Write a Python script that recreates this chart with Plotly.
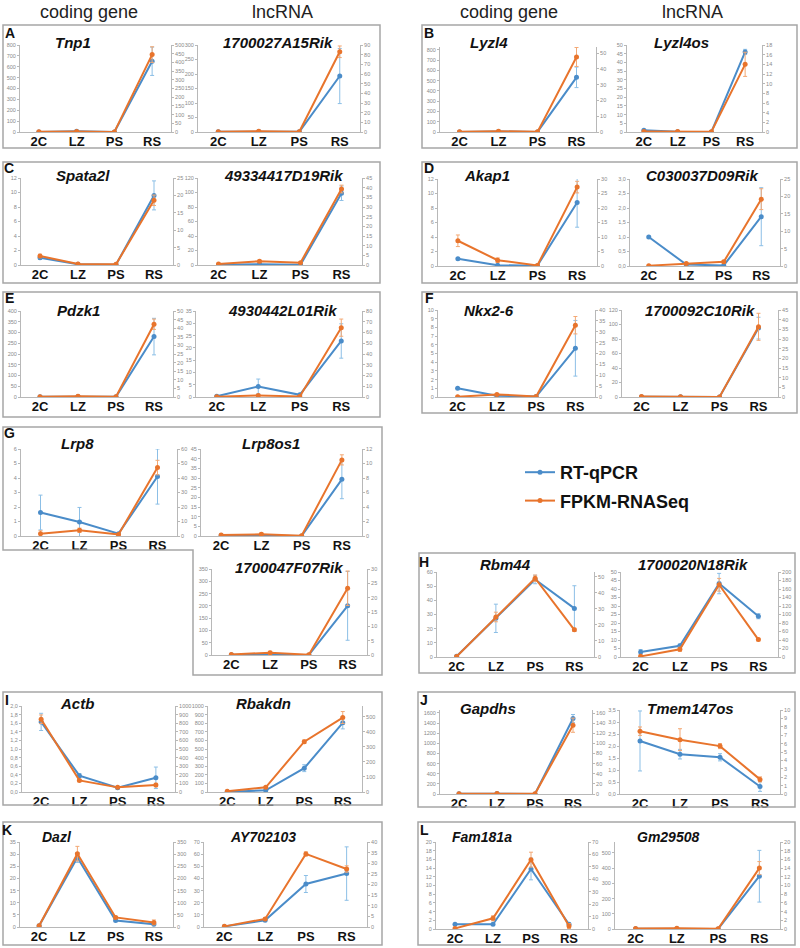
import plotly.graph_objects as go

W, H = 800, 948
FONT = "Liberation Sans, Arial, sans-serif"
stages = ["2C", "LZ", "PS", "RS"]
series_names = ["RT-qPCR", "FPKM-RNASeq"]
column_headers = ["coding gene", "lncRNA", "coding gene", "lncRNA"]

# ---------------- data (qPCR on left axis, FPKM on right axis) ----------------
tnp1_qpcr = [1, 6, 1, 650];        tnp1_qpcr_err = [0.5, 3, 0.5, 130]
tnp1_fpkm = [1, 3, 0.5, 445];      tnp1_fpkm_err = [0.5, 1, 0.3, 45]
r27a15_qpcr = [1, 2, 0.5, 193];    r27a15_qpcr_err = [0.5, 1, 0.3, 95]
r27a15_fpkm = [0.3, 0.8, 0.2, 83]; r27a15_fpkm_err = [0.1, 0.3, 0.1, 6]
lyzl4_qpcr = [1, 5, 1, 533];       lyzl4_qpcr_err = [0.5, 3, 0.5, 100]
lyzl4_fpkm = [0.1, 0.5, 0.1, 47.5]; lyzl4_fpkm_err = [0.05, 0.3, 0.05, 6]
lyzl4os_qpcr = [1, 0.2, 0.05, 46]; lyzl4os_qpcr_err = [0.3, 0.1, 0, 1.5]
lyzl4os_fpkm = [0.1, 0.1, 0.05, 14]; lyzl4os_fpkm_err = [0.05, 0.05, 0, 2.5]
spata2l_qpcr = [1.0, 0.1, 0.05, 9.6]; spata2l_qpcr_err = [0.2, 0.05, 0.02, 2]
spata2l_fpkm = [2.6, 0.3, 0.2, 18.6]; spata2l_fpkm_err = [0.5, 0.1, 0.1, 1.5]
r4933_qpcr = [0.5, 1, 0.3, 99];    r4933_qpcr_err = [0.3, 0.5, 0.2, 10]
r4933_fpkm = [0.5, 2.0, 1.2, 39.3]; r4933_fpkm_err = [0.2, 0.5, 0.3, 2]
akap1_qpcr = [1.0, 0.1, 0.05, 8.75]; akap1_qpcr_err = [0.1, 0.05, 0.02, 3.4]
akap1_fpkm = [8.7, 2.0, 0.2, 27.2]; akap1_fpkm_err = [2, 0.8, 0.1, 2]
c030_qpcr = [1.0, 0.05, 0.02, 1.7]; c030_qpcr_err = [0.03, 0.02, 0.01, 1.0]
c030_fpkm = [0.1, 0.7, 1.2, 19.2]; c030_fpkm_err = [0.05, 0.3, 0.4, 3]
pdzk1_qpcr = [1, 2, 1, 281];       pdzk1_qpcr_err = [0.5, 1, 0.5, 85]
pdzk1_fpkm = [0.2, 0.5, 0.2, 42.3]; pdzk1_fpkm_err = [0.1, 0.2, 0.1, 3]
r4930_qpcr = [0.3, 4.3, 0.9, 22.8]; r4930_qpcr_err = [0.1, 3, 0.2, 7]
r4930_fpkm = [0.3, 1.5, 0.5, 64.5]; r4930_fpkm_err = [0.1, 0.5, 0.2, 8]
nkx26_qpcr = [1.0, 0.15, 0.05, 5.6]; nkx26_qpcr_err = [0.05, 0.05, 0.02, 3.2]
nkx26_fpkm = [0.1, 1.2, 0.2, 33];  nkx26_fpkm_err = [0.05, 0.3, 0.1, 4]
r92c10_qpcr = [0.5, 0.2, 0.1, 95]; r92c10_qpcr_err = [0.3, 0.1, 0.05, 15]
r92c10_fpkm = [0.2, 0.1, 0.05, 36.3]; r92c10_fpkm_err = [0.1, 0.05, 0.02, 7]
lrp8_qpcr = [1.62, 0.97, 0.16, 4.1]; lrp8_qpcr_err = [1.2, 1.0, 0.05, 1.9]
lrp8_fpkm = [1.6, 3.9, 1.0, 47.2]; lrp8_fpkm_err = [2, 1.5, 0.3, 5]
lrp8os1_qpcr = [0.3, 0.2, 0.05, 29.3]; lrp8os1_qpcr_err = [0.2, 0.2, 0.02, 10]
lrp8os1_fpkm = [0.14, 0.23, 0.05, 10.5]; lrp8os1_fpkm_err = [0.05, 0.2, 0.02, 0.7]
r47f07_qpcr = [1, 2, 0.5, 200];    r47f07_qpcr_err = [0.5, 2, 0.3, 140]
r47f07_fpkm = [0.2, 0.8, 0.1, 23.3]; r47f07_fpkm_err = [0.1, 0.5, 0.05, 6]
rbm44_qpcr = [0.5, 27.3, 54.7, 34.3]; rbm44_qpcr_err = [0.3, 10, 3, 16]
rbm44_fpkm = [0.3, 25, 49.2, 17];  rbm44_fpkm_err = [0.1, 3, 2, 1]
r20n18_qpcr = [2.9, 6.6, 43.2, 24]; r20n18_qpcr_err = [1.5, 1, 6, 1.5]
r20n18_fpkm = [1.5, 18, 170, 41];  r20n18_fpkm_err = [0.5, 5, 15, 3]
actb_qpcr = [1.63, 0.38, 0.1, 0.33]; actb_qpcr_err = [0.2, 0.05, 0.01, 0.25]
actb_fpkm = [846, 135, 54, 81];    actb_fpkm_err = [50, 10, 5, 20]
rbakdn_qpcr = [2, 19, 277, 804];   rbakdn_qpcr_err = [1, 5, 40, 70]
rbakdn_fpkm = [5, 31, 335, 496];   rbakdn_fpkm_err = [2, 5, 12, 40]
gapdhs_qpcr = [5, 10, 2, 1490];    gapdhs_qpcr_err = [2, 3, 1, 80]
gapdhs_fpkm = [0.5, 1, 0.3, 136];  gapdhs_fpkm_err = [0.2, 0.5, 0.1, 14]
tmem_qpcr = [2.21, 1.66, 1.53, 0.31]; tmem_qpcr_err = [1.25, 0.2, 0.15, 0.2]
tmem_fpkm = [7.48, 6.47, 5.7, 1.74]; tmem_fpkm_err = [0.5, 1.3, 0.3, 0.3]
dazl_qpcr = [0.5, 28.6, 2.7, 1.1]; dazl_qpcr_err = [0.2, 2, 0.3, 0.3]
dazl_fpkm = [5, 302, 39.5, 19];    dazl_fpkm_err = [2, 30, 5, 10]
ay70_qpcr = [0.5, 5.5, 35.4, 44];  ay70_qpcr_err = [0.2, 1, 7, 22]
ay70_fpkm = [0.3, 3.8, 34.4, 27.3]; ay70_fpkm_err = [0.1, 0.5, 1, 1.5]
fam181a_qpcr = [1.08, 1.08, 13.8, 1.1]; fam181a_qpcr_err = [0.1, 0.1, 2.5, 0.3]
fam181a_fpkm = [0.5, 8.6, 55.8, 2.4]; fam181a_fpkm_err = [0.2, 2, 6, 2]
gm29508_qpcr = [1, 2, 0.5, 347];   gm29508_qpcr_err = [0.5, 1, 0.3, 170]
gm29508_fpkm = [0.1, 0.2, 0.05, 14]; gm29508_fpkm_err = [0.05, 0.1, 0.02, 1.5]

# ---------------- styling ----------------
BLUE = "#4a8cc9"
ORANGE = "#e8742c"
BLUE_ERR = "#8cbfe6"
ORANGE_ERR = "#f3a874"
AXC = "#b8b8b8"
TICKC = "#8a8a8a"
BOXC = "#a6a6a6"


def px(x):
    return x / W


def py(y):
    return 1 - y / H


fig = go.Figure()
layout = {}
annotations = []
shapes = []


def tick_arrays(top, dt, dec):
    n = int(top / dt + 1e-9)
    vals = [round(i * dt, 6) for i in range(n + 1)]
    if dec:
        txt = [f"{v:.{dec}f}".replace(".", ",") for v in vals]
    else:
        txt = [f"{int(round(v))}" for v in vals]
    return vals, txt


k_counter = [0]


def add_sub(gene, q, qe, f, fe, xl, xr, ytop, ybot, lrng, ldt, rrng, rdt,
            title_xy, ldec=0, rdec=0, tsize=15):
    k_counter[0] += 1
    k = k_counter[0]
    xn = "" if k == 1 else str(k)
    yl, yr = 2 * k - 1, 2 * k
    yln = "" if yl == 1 else str(yl)
    yrn = str(yr)
    layout["xaxis" + xn] = dict(
        domain=[px(xl), px(xr)], anchor="y" + yln, type="category",
        categoryorder="array", categoryarray=stages, range=[-0.5, 3.5],
        showline=True, linecolor=AXC, linewidth=1, ticks="", showgrid=False,
        zeroline=False, automargin=False, ticklabelstandoff=-3,
        tickfont=dict(family=FONT, size=13, color="#111", weight="bold"),
    )
    lv, lt = tick_arrays(lrng[1], ldt, ldec)
    rv, rt = tick_arrays(rrng[1], rdt, rdec)
    common = dict(showline=True, linecolor=AXC, linewidth=1, ticks="outside",
                  ticklen=2, tickcolor=AXC, showgrid=False, zeroline=False,
                  automargin=False,
                  tickfont=dict(family=FONT, size=5.5, color=TICKC), tickmode="array")
    layout["yaxis" + yln] = dict(domain=[py(ybot), py(ytop)], anchor="x" + xn,
                                 range=list(lrng), tickvals=lv, ticktext=lt, side="left", **common)
    layout["yaxis" + yrn] = dict(domain=[py(ybot), py(ytop)], anchor="x" + xn,
                                 overlaying="y" + yln, side="right",
                                 range=list(rrng), tickvals=rv, ticktext=rt, **common)
    first = (k == 1)
    fig.add_trace(go.Scatter(
        x=stages, y=q, mode="lines+markers", name=series_names[0],
        legendgroup="q", showlegend=first,
        line=dict(color=BLUE, width=2), marker=dict(color=BLUE, size=5),
        error_y=dict(type="data", array=qe, visible=True, color=BLUE_ERR, thickness=1, width=2),
        xaxis="x" + xn, yaxis="y" + yln))
    fig.add_trace(go.Scatter(
        x=stages, y=f, mode="lines+markers", name=series_names[1],
        legendgroup="f", showlegend=first,
        line=dict(color=ORANGE, width=2), marker=dict(color=ORANGE, size=5),
        error_y=dict(type="data", array=fe, visible=True, color=ORANGE_ERR, thickness=1, width=2),
        xaxis="x" + xn, yaxis="y" + yrn))
    annotations.append(dict(
        x=px(title_xy[0]), y=py(title_xy[1]), xref="paper", yref="paper",
        text=gene, showarrow=False, xanchor="center", yanchor="middle",
        font=dict(family=FONT, size=tsize, color="#111", weight="bold", style="italic")))


# A
add_sub("Tnp1", tnp1_qpcr, tnp1_qpcr_err, tnp1_fpkm, tnp1_fpkm_err,
        20, 171, 45, 132, (0, 800), 100, (0, 500), 50, (73, 43))
add_sub("1700027A15Rik", r27a15_qpcr, r27a15_qpcr_err, r27a15_fpkm, r27a15_fpkm_err,
        198, 360, 45, 132, (0, 300), 50, (0, 90), 10, (278, 43))
# B
add_sub("Lyzl4", lyzl4_qpcr, lyzl4_qpcr_err, lyzl4_fpkm, lyzl4_fpkm_err,
        440, 596, 47, 132, (0, 829), 100, (0, 53.8), 10, (489, 43))
add_sub("Lyzl4os", lyzl4os_qpcr, lyzl4os_qpcr_err, lyzl4os_fpkm, lyzl4os_fpkm_err,
        627, 762, 45, 132, (0, 50), 5, (0, 18), 2, (681, 43))
# C
add_sub("Spata2l", spata2l_qpcr, spata2l_qpcr_err, spata2l_fpkm, spata2l_fpkm_err,
        21, 173, 178, 265, (0, 12), 2, (0, 25), 5, (83, 175))
add_sub("49334417D19Rik", r4933_qpcr, r4933_qpcr_err, r4933_fpkm, r4933_fpkm_err,
        198, 362, 178, 265, (0, 120), 20, (0, 45), 5, (283, 175))
# D
add_sub("Akap1", akap1_qpcr, akap1_qpcr_err, akap1_fpkm, akap1_fpkm_err,
        438, 597, 179, 266, (0, 12), 2, (0, 30), 5, (487, 175))
add_sub("C030037D09Rik", c030_qpcr, c030_qpcr_err, c030_fpkm, c030_fpkm_err,
        630, 780, 179, 266, (0, 3), 0.5, (0, 25), 5, (702, 175), ldec=1)
# E
add_sub("Pdzk1", pdzk1_qpcr, pdzk1_qpcr_err, pdzk1_fpkm, pdzk1_fpkm_err,
        21, 173, 311, 397, (0, 400), 50, (0, 50), 5, (78, 310))
add_sub("4930442L01Rik", r4930_qpcr, r4930_qpcr_err, r4930_fpkm, r4930_fpkm_err,
        196, 362, 311, 397, (0, 35), 5, (0, 80), 10, (282, 310))
# F
add_sub("Nkx2-6", nkx26_qpcr, nkx26_qpcr_err, nkx26_fpkm, nkx26_fpkm_err,
        438, 595, 310, 397, (0, 10), 1, (0, 40), 5, (489, 310))
add_sub("1700092C10Rik", r92c10_qpcr, r92c10_qpcr_err, r92c10_fpkm, r92c10_fpkm_err,
        622, 778, 310, 397, (0, 120), 20, (0, 45), 5, (700, 310))
# G
add_sub("Lrp8", lrp8_qpcr, lrp8_qpcr_err, lrp8_fpkm, lrp8_fpkm_err,
        21, 177, 449, 536, (0, 6), 1, (0, 60), 10, (77, 443))
add_sub("Lrp8os1", lrp8os1_qpcr, lrp8os1_qpcr_err, lrp8os1_fpkm, lrp8os1_fpkm_err,
        201, 362, 449, 536, (0, 45), 5, (0, 12), 2, (271, 443))
add_sub("1700047F07Rik", r47f07_qpcr, r47f07_qpcr_err, r47f07_fpkm, r47f07_fpkm_err,
        212, 367, 569, 655, (0, 350), 50, (0, 30), 5, (289, 567))
# H
add_sub("Rbm44", rbm44_qpcr, rbm44_qpcr_err, rbm44_fpkm, rbm44_fpkm_err,
        437, 594, 572, 657, (0, 60), 10, (0, 53.1), 10, (506, 564))
add_sub("1700020N18Rik", r20n18_qpcr, r20n18_qpcr_err, r20n18_fpkm, r20n18_fpkm_err,
        621, 778, 572, 657, (0, 50), 5, (0, 200), 20, (693, 564))
# I
add_sub("Actb", actb_qpcr, actb_qpcr_err, actb_fpkm, actb_fpkm_err,
        22, 175, 706, 792, (0, 2), 0.2, (0, 1000), 100, (77, 703), ldec=1)
add_sub("Rbakdn", rbakdn_qpcr, rbakdn_qpcr_err, rbakdn_fpkm, rbakdn_fpkm_err,
        208, 362, 706, 792, (0, 1000), 100, (0, 573), 100, (263, 703))
# J
add_sub("Gapdhs", gapdhs_qpcr, gapdhs_qpcr_err, gapdhs_fpkm, gapdhs_fpkm_err,
        440, 592, 710, 794, (0, 1659), 200, (0, 166), 20, (488, 708))
add_sub("Tmem147os", tmem_qpcr, tmem_qpcr_err, tmem_fpkm, tmem_fpkm_err,
        620, 780, 710, 794, (0, 3.5), 0.5, (0, 10), 1, (690, 708), ldec=1)
# K
add_sub("Dazl", dazl_qpcr, dazl_qpcr_err, dazl_fpkm, dazl_fpkm_err,
        20, 173, 842, 927, (0, 35), 5, (0, 350), 50, (57, 837), tsize=14)
add_sub("AY702103", ay70_qpcr, ay70_qpcr_err, ay70_fpkm, ay70_fpkm_err,
        204, 367, 842, 927, (0, 70), 10, (0, 40), 5, (263, 837), tsize=14)
# L
add_sub("Fam181a", fam181a_qpcr, fam181a_qpcr_err, fam181a_fpkm, fam181a_fpkm_err,
        436, 588, 842, 929, (0, 20), 2, (0, 70), 10, (482, 837), tsize=14)
add_sub("Gm29508", gm29508_qpcr, gm29508_qpcr_err, gm29508_fpkm, gm29508_fpkm_err,
        615, 780, 842, 929, (0, 572), 100, (0, 20), 2, (668, 837), tsize=14)

# ---------------- boxes ----------------
boxes = [(3, 25, 380, 148), (422, 25, 797, 148), (3, 162, 380, 283), (422, 162, 797, 283),
         (3, 292, 380, 417), (422, 292, 797, 413), (419, 553, 795, 673),
         (3, 692, 382, 805), (418, 692, 795, 807), (3, 822, 382, 945), (418, 822, 795, 945)]
for x0, y0, x1, y1 in boxes:
    shapes.append(dict(type="rect", xref="paper", yref="paper", x0=px(x0), x1=px(x1),
                       y0=py(y1), y1=py(y0), line=dict(color=BOXC, width=1.5)))
gpts = [(3, 427), (382, 427), (382, 675), (193, 675), (193, 550), (3, 550)]
path = "M " + " L ".join(f"{px(a):.5f},{py(b):.5f}" for a, b in gpts) + " Z"
shapes.append(dict(type="path", xref="paper", yref="paper", path=path,
                   line=dict(color=BOXC, width=1.5)))

# panel letters
letters = [("A", 10, 33), ("B", 429, 33), ("C", 9, 168), ("D", 429, 168), ("E", 9, 298),
           ("F", 429, 298), ("G", 9, 433), ("H", 424, 562), ("I", 7, 700), ("J", 424, 700),
           ("K", 7, 830), ("L", 424, 830)]
for t, x, y in letters:
    annotations.append(dict(x=px(x), y=py(y), xref="paper", yref="paper", text=t,
                            showarrow=False, xanchor="center", yanchor="middle",
                            font=dict(family=FONT, size=14, color="#111", weight="bold")))

# column headers
for t, x in zip(column_headers, [89, 282, 509, 692]):
    annotations.append(dict(x=px(x), y=py(12), xref="paper", yref="paper", text=t,
                            showarrow=False, xanchor="center", yanchor="middle",
                            font=dict(family=FONT, size=18, color="#222")))

fig.update_layout(**layout)
fig.update_layout(
    width=W, height=H, margin=dict(l=0, r=0, t=0, b=0, autoexpand=False),
    paper_bgcolor="white", plot_bgcolor="white",
    annotations=annotations, shapes=shapes,
    legend=dict(x=px(520), y=py(454), xanchor="left", yanchor="top",
                font=dict(family=FONT, size=18, color="#111", weight="bold"),
                bgcolor="rgba(0,0,0,0)", tracegroupgap=2, itemwidth=30),
)
fig.write_html("out.html", config={"displayModeBar": False},
               post_script="document.body.style.margin='0px';document.body.style.padding='0px';")
